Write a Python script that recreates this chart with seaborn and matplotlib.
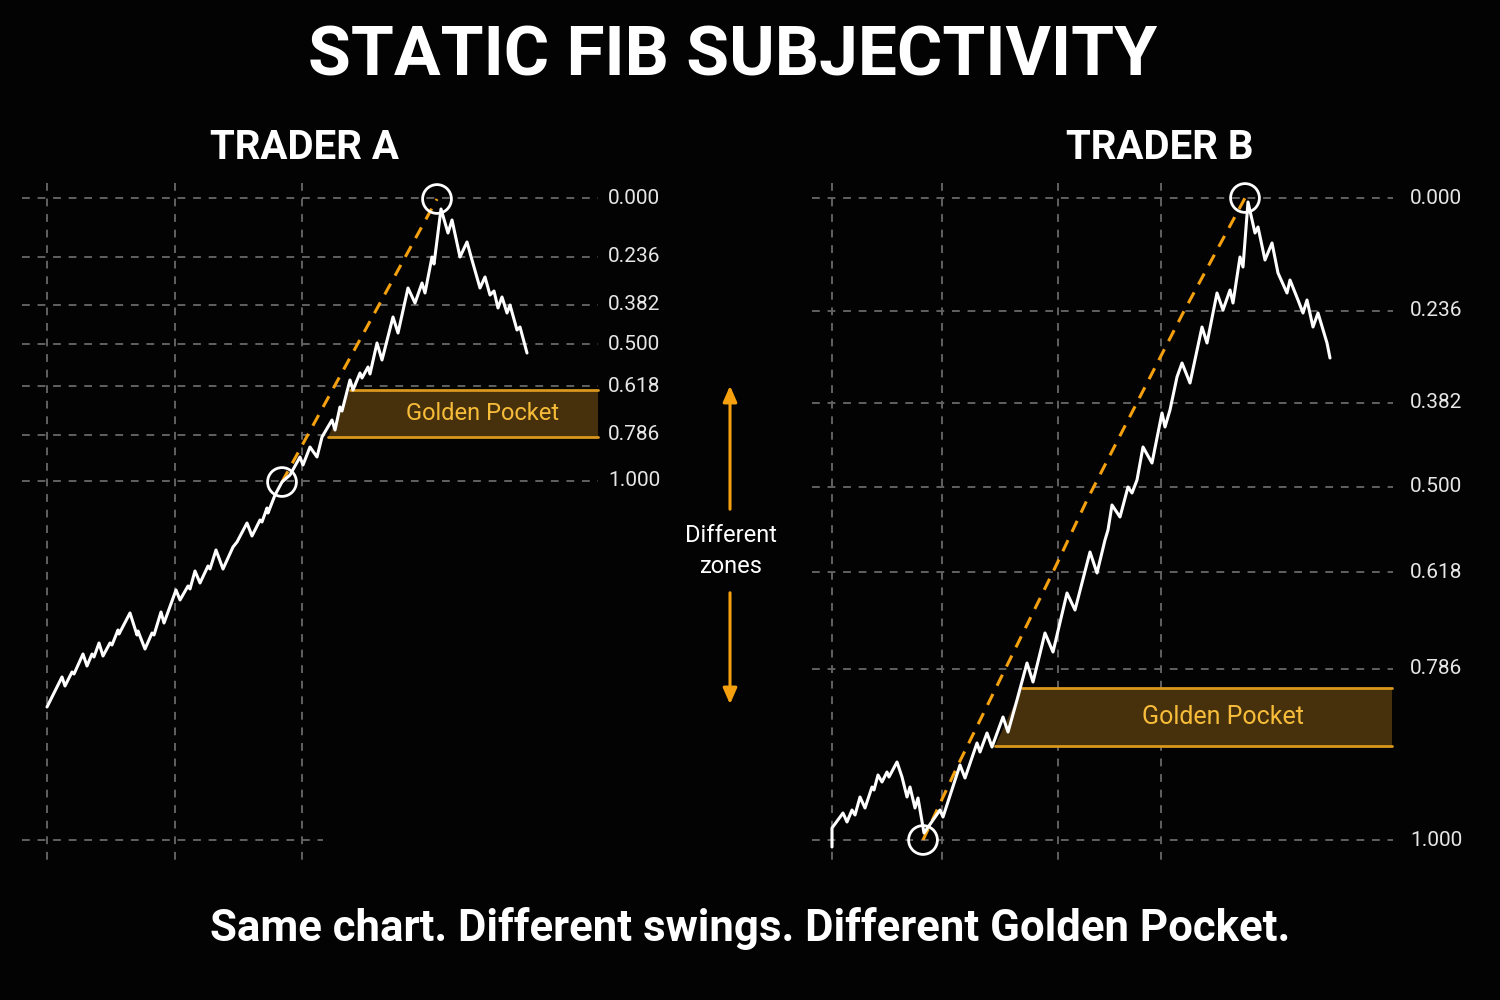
import matplotlib.pyplot as plt
import seaborn as sns
import pandas as pd

# figure is laid out in pixel space (1500 x 1000), y grows downward
TITLE = "STATIC FIB SUBJECTIVITY"
SUBTITLE = "Same chart. Different swings. Different Golden Pocket."
PANEL_TITLES = ["TRADER A", "TRADER B"]
FIB_LABELS = ["0.000", "0.236", "0.382", "0.500", "0.618", "0.786", "1.000"]

# fib level positions
fib_a = [198, 257, 305, 344, 386, 435, 481]
fib_b = [198, 311, 403, 487, 572, 669, 840]

# price paths (x, y)
price_a_x = [47, 62, 65, 72, 74, 83, 87, 92, 94, 99, 103, 110, 112, 118, 119, 130, 137, 138, 145,
             152, 154, 161, 164, 176, 180, 188, 190, 195, 200, 208, 210, 216, 223, 233, 237, 247,
             252, 260, 262, 267, 268, 275, 282, 290, 300, 303, 310, 317, 322, 332, 335, 340, 342,
             350, 353, 360, 362, 368, 370, 377, 382, 393, 398, 408, 415, 422, 425, 432, 434, 441,
             448, 452, 460, 467, 472, 480, 485, 490, 494, 498, 502, 507, 510, 517, 520, 527]
price_a_y = [707, 677, 686, 672, 674, 654, 666, 654, 657, 643, 656, 643, 645, 630, 634, 613, 635, 631, 649,
             633, 635, 612, 623, 590, 600, 586, 589, 571, 583, 566, 569, 550, 569, 547, 542, 523,
             536, 520, 522, 508, 513, 495, 482, 475, 457, 465, 447, 457, 437, 420, 430, 407, 411,
             380, 390, 373, 378, 367, 374, 343, 360, 317, 333, 288, 303, 283, 293, 257, 264, 209,
             233, 220, 257, 242, 260, 288, 277, 295, 291, 308, 297, 313, 305, 330, 327, 353]

price_b_x = [832, 832, 843, 847, 852, 855, 860, 865, 872, 874, 878, 882, 887, 889, 897, 902, 907, 910,
             915, 918, 924, 940, 943, 960, 965, 977, 980, 987, 992, 1003, 1008, 1017, 1027, 1033,
             1045, 1053, 1067, 1075, 1090, 1097, 1105, 1108, 1112, 1120, 1128, 1132, 1137, 1143,
             1152, 1162, 1165, 1170, 1177, 1182, 1190, 1202, 1207, 1217, 1223, 1230, 1233, 1240,
             1243, 1248, 1255, 1258, 1265, 1272, 1278, 1287, 1290, 1298, 1303, 1307, 1313, 1318,
             1327, 1330]
price_b_y = [847, 828, 813, 822, 810, 815, 797, 808, 787, 790, 775, 782, 772, 777, 762, 777, 797, 787,
             808, 798, 833, 810, 817, 765, 778, 743, 752, 733, 747, 717, 732, 700, 663, 682,
             633, 652, 593, 610, 552, 573, 540, 530, 505, 517, 487, 493, 480, 447,
             463, 413, 427, 410, 377, 363, 383, 327, 343, 293, 310, 290, 303, 257,
             267, 202, 233, 227, 260, 243, 273, 293, 280, 300, 313, 300, 327, 313,
             343, 358]

# swing anchors (low, high) and the drawn swing lines
swing_a_x = [282, 437]
swing_a_y = [482, 199]
swing_b_x = [923, 958, 1053, 1087, 1183, 1245]
swing_b_y = [840, 765, 572, 500, 313, 198]
anchor_b_x = [923, 1245]
anchor_b_y = [840, 198]

BG = "#030303"
GRID = "#616161"
ORANGE = "#f5a00f"
GOLD_TEXT = "#f7bd3a"
POCKET_FILL = "#47300c"

sns.set_theme(style="dark")
plt.rcParams["font.family"] = ["Roboto", "DejaVu Sans"]

fig = plt.figure(figsize=(15, 10), dpi=100, facecolor=BG)
ax = fig.add_axes([0, 0, 1, 1])
ax.set_facecolor(BG)

grid_kw = dict(color=GRID, lw=1.4, ls=(0, (4, 4)), zorder=1)

# panel A grid
for gx in [47, 175, 302]:
    ax.plot([gx, gx], [183, 862], **grid_kw)
for gy in fib_a:
    ax.plot([22, 598], [gy, gy], **grid_kw)
ax.plot([22, 323], [840, 840], **grid_kw)

# panel B grid
for gx in [832, 942, 1058, 1161]:
    ax.plot([gx, gx], [183, 862], **grid_kw)
for gy in fib_b:
    ax.plot([812, 1393], [gy, gy], **grid_kw)

# fib labels
for gy, lab in zip(fib_a, FIB_LABELS):
    ax.text(608, gy, lab, color="#e6e6e6", fontsize=15, va="center", ha="left")
for gy, lab in zip(fib_b, FIB_LABELS):
    ax.text(1410, gy, lab, color="#e6e6e6", fontsize=15, va="center", ha="left")

# golden pockets
ax.fill([328, 350, 598, 598], [437, 390, 390, 437], color=POCKET_FILL, zorder=2, lw=0)
ax.plot([350, 598], [390, 390], color="#d9981c", lw=2, zorder=3)
ax.plot([328, 598], [437, 437], color="#d9981c", lw=2, zorder=3)
ax.text(483, 413, "Golden Pocket", color=GOLD_TEXT, fontsize=17, ha="center", va="center", zorder=4)

ax.fill([995, 1022, 1392, 1392], [746, 688, 688, 746], color=POCKET_FILL, zorder=2, lw=0)
ax.plot([1022, 1392], [688, 688], color="#d9981c", lw=2, zorder=3)
ax.plot([995, 1392], [746, 746], color="#d9981c", lw=2, zorder=3)
ax.text(1223, 717, "Golden Pocket", color=GOLD_TEXT, fontsize=18, ha="center", va="center", zorder=4)

# swing lines
ax.plot(swing_a_x, swing_a_y, color=ORANGE, lw=2.2, ls=(0, (4, 3)), zorder=5)
ax.plot(swing_b_x, swing_b_y, color=ORANGE, lw=2.2, ls=(0, (4, 3)), zorder=5)

# price paths
df_a = pd.DataFrame({"x": price_a_x, "y": price_a_y})
df_b = pd.DataFrame({"x": price_b_x, "y": price_b_y})
for df in (df_a, df_b):
    sns.lineplot(data=df, x="x", y="y", ax=ax, sort=False, estimator=None,
                 color="white", lw=2.2, zorder=6)

# anchor circles
ax.scatter(swing_a_x, swing_a_y, s=430, facecolors="none", edgecolors="white", linewidths=2, zorder=7)
ax.scatter(anchor_b_x, anchor_b_y, s=430, facecolors="none", edgecolors="white", linewidths=2, zorder=7)

# middle arrows
arrow_kw = dict(arrowstyle="-|>,head_width=0.35,head_length=0.8", color=ORANGE, lw=2.2)
ax.annotate("", xy=(730, 383), xytext=(730, 512), arrowprops=arrow_kw)
ax.annotate("", xy=(730, 707), xytext=(730, 590), arrowprops=arrow_kw)
ax.text(731, 551, "Different\nzones", color="white", fontsize=17, ha="center", va="center",
        linespacing=1.45)

# titles
ax.text(733, 57, TITLE, color="white", fontsize=50, fontweight="bold", ha="center", va="center")
ax.text(305, 148, PANEL_TITLES[0], color="white", fontsize=29, fontweight="bold", ha="center", va="center")
ax.text(1160, 148, PANEL_TITLES[1], color="white", fontsize=29, fontweight="bold", ha="center", va="center")
ax.text(750, 928, SUBTITLE, color="white", fontsize=31.5, fontweight="semibold", ha="center", va="center")

ax.set_xlim(0, 1500)
ax.set_ylim(1000, 0)
ax.axis("off")

fig.savefig("out.png", dpi=100, facecolor=BG)
